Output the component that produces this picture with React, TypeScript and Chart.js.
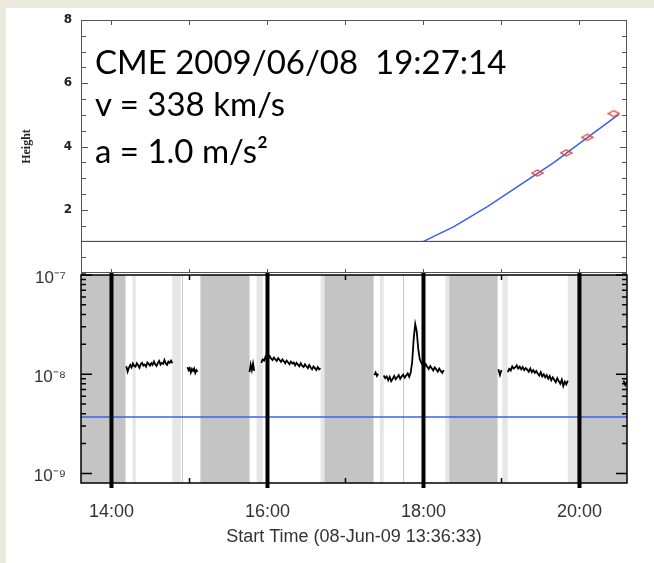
import React, { useEffect, useRef } from 'react';
import { Chart, registerables } from 'chart.js';

Chart.register(...registerables);

// ---- time axis (decimal hours, 08-Jun-09) ----
const START_HOUR = 13 + 36 / 60 + 33 / 3600; // 13:36:33
const END_HOUR = START_HOUR + 7;
const hourMarks = [14, 15, 16, 17, 18, 19, 20];
const labeledHours = [14, 16, 18, 20];

// ---- top panel: CME height-time ----
const heightLabels = [2, 4, 6, 8];
const heightMinorTicks = [0, 0.5, 1, 1.5, 2, 2.5, 3, 3.5, 4, 4.5, 5, 5.5, 6, 6.5, 7, 7.5, 8];
const heightMax = 8;
const baselineTimes = [START_HOUR, END_HOUR];
const baselineHeights = [1, 1];
const fitTimes = [18.0, 18.385, 18.82, 19.24, 19.67, 20.1, 20.5];
const fitHeights = [1.0, 1.46, 2.1, 2.79, 3.49, 4.28, 5.01];
const obsTimes = [19.46, 19.83, 20.1, 20.44];
const obsHeights = [3.16, 3.8, 4.29, 5.04];
const annotationLines = ['CME 2009/06/08  19:27:14', 'v = 338 km/s', 'a = 1.0 m/s\u00B2'];

// ---- bottom panel: GOES flux (log) ----
const fluxMin = 8e-10;
const fluxMax = 1e-7;
const fluxLabels = [1e-9, 1e-8, 1e-7];
const fluxMinorMultipliers = [2, 3, 4, 5, 6, 7, 8, 9];
const thresholdFlux = 3.7e-9;
const FLUX_UNIT = 1e-8;

const darkBands = [
  [START_HOUR, 14.18],
  [15.14, 15.77],
  [16.73, 17.36],
  [18.33, 18.95],
  [19.97, END_HOUR],
];
const lightBands = [
  [14.27, 14.31],
  [14.78, 14.89],
  [15.86, 15.94],
  [16.68, 16.73],
  [17.44, 17.49],
  [18.28, 18.33],
  [19.01, 19.08],
  [19.85, 19.97],
];
const faintLines = [14.9, 17.74];

const segmentTimes = [
  [14.19, 14.78],
  [14.974, 15.103],
  [15.77, 15.83],
  [15.92, 16.68],
  [17.37, 17.42],
  [17.49, 18.26],
  [18.96, 19.0],
  [19.08, 19.85],
  [20.564, 20.609],
];
const seg1 = [1.2, 1.06, 1.16, 1.24, 1.17, 1.28, 1.21, 1.19, 1.29, 1.23, 1.16, 1.26, 1.3, 1.22, 1.25, 1.19, 1.31, 1.27, 1.22, 1.29, 1.24, 1.34, 1.26, 1.21, 1.3, 1.36, 1.25, 1.3, 1.27, 1.39, 1.28, 1.24, 1.34, 1.3, 1.37, 1.29];
const seg2 = [1.18, 1.1, 1.15, 1.04, 1.13, 1.08, 1.14, 1.03, 1.1, 1.06];
const seg3 = [1.05, 1.25, 1.1, 1.28, 1.08];
const seg4 = [1.3, 1.41, 1.37, 1.5, 1.38, 1.44, 1.52, 1.43, 1.39, 1.47, 1.41, 1.36, 1.45, 1.39, 1.33, 1.41, 1.35, 1.29, 1.37, 1.32, 1.26, 1.34, 1.28, 1.31, 1.23, 1.3, 1.25, 1.2, 1.29, 1.22, 1.18, 1.26, 1.2, 1.15, 1.24, 1.17, 1.12, 1.2, 1.15, 1.1, 1.18, 1.12, 1.15];
const seg5 = [0.98, 1.04, 0.96, 1.01];
const seg6 = [0.97, 0.91, 0.95, 0.87, 0.94, 0.85, 0.9, 0.96, 0.89, 0.93, 0.98, 0.9, 0.95, 0.99, 0.92, 0.97, 1.02, 0.94, 1.04, 1.35, 2.3, 3.2, 2.7, 1.8, 1.42, 1.3, 1.24, 1.17, 1.26, 1.19, 1.13, 1.21, 1.15, 1.09, 1.17, 1.12, 1.06, 1.14, 1.08, 1.03, 1.1];
const seg7 = [1.12, 0.98, 1.1];
const seg8 = [1.05, 1.13, 1.09, 1.2, 1.14, 1.17, 1.23, 1.14, 1.19, 1.12, 1.18, 1.1, 1.15, 1.11, 1.06, 1.14, 1.05, 1.1, 1.03, 1.08, 1.01, 0.97, 1.05, 0.95, 1.0, 0.93, 0.98, 0.9, 0.96, 0.87, 0.93, 0.88, 0.83, 0.91, 0.85, 0.8, 0.88, 0.76, 0.84, 0.79, 0.86];
const seg9 = [0.86, 0.78, 0.84];
const segmentValues = [seg1, seg2, seg3, seg4, seg5, seg6, seg7, seg8, seg9];

function supDigits(n: number) {
  const map: Record<string, string> = { '-': '\u207B', '0': '\u2070', '1': '\u00B9', '2': '\u00B2', '3': '\u00B3', '4': '\u2074', '5': '\u2075', '6': '\u2076', '7': '\u2077', '8': '\u2078', '9': '\u2079' };
  return String(n).split('').map((c) => map[c] || c).join('');
}

function buildTrace() {
  const pts: any[] = [];
  segmentValues.forEach((vals, si) => {
    const [t0, t1] = segmentTimes[si];
    const step = vals.length > 1 ? (t1 - t0) / (vals.length - 1) : 0;
    vals.forEach((v, i) => pts.push({ x: t0 + i * step, y: v * FLUX_UNIT }));
    pts.push({ x: t1 + 0.001, y: null });
  });
  return pts;
}

const noScalePadding = (s: any) => {
  s.paddingTop = 0;
  s.paddingBottom = 0;
};

const topFrame = {
  id: 'topFrame',
  afterDraw(chart: any) {
    const { ctx, chartArea: a, scales } = chart;
    const x = scales.x;
    const y = scales.y;
    ctx.save();
    ctx.strokeStyle = '#555';
    ctx.lineWidth = 1;
    ctx.strokeRect(Math.round(a.left) + 0.5, Math.round(a.top) + 0.5, Math.round(a.right - a.left) - 1, Math.round(a.bottom - a.top) - 1);
    ctx.beginPath();
    heightMinorTicks.forEach((v) => {
      const py = Math.round(y.getPixelForValue(v)) + 0.5;
      const len = heightLabels.includes(v) ? 7 : 5;
      ctx.moveTo(a.left, py);
      ctx.lineTo(a.left + len, py);
      ctx.moveTo(a.right, py);
      ctx.lineTo(a.right - len, py);
    });
    hourMarks.forEach((h) => {
      const px = Math.round(x.getPixelForValue(h)) + 0.5;
      ctx.moveTo(px, a.top);
      ctx.lineTo(px, a.top + 5);
      ctx.moveTo(px, a.bottom);
      ctx.lineTo(px, a.bottom - 4);
    });
    ctx.stroke();
    ctx.restore();
  },
};

const bottomDecor = {
  id: 'bottomDecor',
  beforeDatasetsDraw(chart: any) {
    const { ctx, chartArea: a, scales } = chart;
    const x = scales.x;
    ctx.save();
    ctx.beginPath();
    ctx.rect(a.left, a.top, a.right - a.left, a.bottom - a.top);
    ctx.clip();
    ctx.fillStyle = '#e6e6e6';
    lightBands.forEach(([s, e]) => {
      const p0 = x.getPixelForValue(s);
      const p1 = x.getPixelForValue(e);
      ctx.fillRect(p0, a.top, p1 - p0, a.bottom - a.top);
    });
    ctx.fillStyle = '#c4c4c4';
    darkBands.forEach(([s, e]) => {
      const p0 = x.getPixelForValue(s);
      const p1 = x.getPixelForValue(e);
      ctx.fillRect(p0, a.top, p1 - p0, a.bottom - a.top);
    });
    ctx.strokeStyle = '#c8c8c8';
    ctx.lineWidth = 1;
    ctx.beginPath();
    faintLines.forEach((h) => {
      const px = Math.round(x.getPixelForValue(h)) + 0.5;
      ctx.moveTo(px, a.top);
      ctx.lineTo(px, a.bottom);
    });
    ctx.stroke();
    ctx.restore();
  },
  afterDatasetsDraw(chart: any) {
    const { ctx, chartArea: a, scales } = chart;
    const x = scales.x;
    const y = scales.y;
    ctx.save();
    ctx.fillStyle = '#000';
    labeledHours.forEach((h) => {
      const px = x.getPixelForValue(h);
      ctx.fillRect(px - 2, a.top - 2, 4, a.bottom - a.top + 7);
    });
    ctx.strokeStyle = '#000';
    ctx.lineWidth = 1.5;
    ctx.strokeRect(a.left, a.top, a.right - a.left, a.bottom - a.top);
    ctx.beginPath();
    fluxLabels.forEach((major) => {
      const pm = y.getPixelForValue(major);
      ctx.moveTo(a.left, pm);
      ctx.lineTo(a.left + 11, pm);
      ctx.moveTo(a.right, pm);
      ctx.lineTo(a.right - 11, pm);
      if (major < fluxMax) {
        fluxMinorMultipliers.forEach((m) => {
          const v = major * m;
          if (v > fluxMax) return;
          const p = y.getPixelForValue(v);
          ctx.moveTo(a.left, p);
          ctx.lineTo(a.left + 5, p);
          ctx.moveTo(a.right, p);
          ctx.lineTo(a.right - 5, p);
        });
      }
    });
    hourMarks.filter((h) => !labeledHours.includes(h)).forEach((h) => {
      const px = x.getPixelForValue(h);
      ctx.moveTo(px, a.top);
      ctx.lineTo(px, a.top + 5);
      ctx.moveTo(px, a.bottom);
      ctx.lineTo(px, a.bottom - 5);
    });
    ctx.stroke();
    ctx.restore();
  },
};

function makeDiamond() {
  const c = document.createElement('canvas');
  c.width = 13;
  c.height = 8;
  const g = c.getContext('2d')!;
  g.strokeStyle = '#e0402a';
  g.lineWidth = 1.3;
  g.beginPath();
  g.moveTo(1, 4);
  g.lineTo(6.5, 1);
  g.lineTo(12, 4);
  g.lineTo(6.5, 7);
  g.closePath();
  g.stroke();
  return c;
}

export default function App() {
  const topRef = useRef<HTMLCanvasElement>(null);
  const bottomRef = useRef<HTMLCanvasElement>(null);

  useEffect(() => {
    const diamond = makeDiamond();
    const top = new Chart(topRef.current!, {
      type: 'line',
      data: {
        datasets: [
          {
            data: obsTimes.map((t, i) => ({ x: t, y: obsHeights[i] })),
            showLine: false,
            pointStyle: diamond as any,
            pointRadius: 5,
            borderColor: '#e0402a',
          },
          {
            data: fitTimes.map((t, i) => ({ x: t, y: fitHeights[i] })),
            borderColor: '#3a5fe6',
            borderWidth: 1.5,
            pointRadius: 0,
          },
          {
            data: baselineTimes.map((t, i) => ({ x: t, y: baselineHeights[i] })),
            borderColor: '#333',
            borderWidth: 1,
            pointRadius: 0,
          },
        ],
      },
      options: {
        responsive: false,
        animation: false,
        events: [],
        layout: { padding: { top: 20, right: 27, bottom: 7, left: 0 } },
        plugins: { legend: { display: false }, tooltip: { enabled: false } },
        scales: {
          x: { type: 'linear', min: START_HOUR, max: END_HOUR, bounds: 'data', display: false },
          y: {
            type: 'linear',
            min: 0,
            max: heightMax,
            bounds: 'data',
            position: 'left',
            afterFit: (s: any) => { s.width = 81; noScalePadding(s); },
            afterBuildTicks: (s: any) => { s.ticks = heightLabels.map((v) => ({ value: v })); },
            grid: { display: false, drawTicks: false },
            border: { display: false },
            ticks: {
              padding: 9,
              color: '#222',
              font: { family: 'DejaVu Sans', weight: 'bold', size: 12 },
              callback: (v: any) => String(v),
            },
            title: {
              display: true,
              text: 'Height',
              color: '#222',
              font: { family: 'Liberation Serif', weight: 'bold', size: 12 },
              padding: { top: 20, bottom: 0 },
            },
          },
        },
      } as any,
      plugins: [topFrame],
    });

    const bottom = new Chart(bottomRef.current!, {
      type: 'line',
      data: {
        datasets: [
          {
            data: buildTrace(),
            borderColor: '#000',
            borderWidth: 1.8,
            pointRadius: 0,
            spanGaps: false,
          },
          {
            data: [START_HOUR, END_HOUR].map((t) => ({ x: t, y: thresholdFlux })),
            borderColor: '#3a62e8',
            borderWidth: 1.6,
            pointRadius: 0,
          },
        ],
      },
      options: {
        responsive: false,
        animation: false,
        events: [],
        layout: { padding: { top: 15, right: 27, bottom: 0, left: 0 } },
        plugins: { legend: { display: false }, tooltip: { enabled: false } },
        scales: {
          x: {
            type: 'linear',
            min: START_HOUR,
            max: END_HOUR,
            bounds: 'data',
            position: 'bottom',
            afterFit: (s: any) => { s.height = 80; },
            afterBuildTicks: (s: any) => { s.ticks = labeledHours.map((v) => ({ value: v })); },
            grid: { display: false, drawTicks: false },
            border: { display: false },
            ticks: {
              autoSkip: false,
              maxRotation: 0,
              padding: 18,
              color: '#333',
              font: { family: 'Liberation Sans', size: 18 },
              callback: (v: any) => `${v}:00`,
            },
            title: {
              display: true,
              text: 'Start Time (08-Jun-09 13:36:33)',
              color: '#333',
              font: { family: 'Liberation Sans', size: 18 },
              padding: { top: 0, bottom: 15 },
            },
          },
          y: {
            type: 'logarithmic',
            min: fluxMin,
            max: fluxMax,
            bounds: 'data',
            position: 'left',
            afterFit: (s: any) => { s.width = 81; noScalePadding(s); },
            afterBuildTicks: (s: any) => { s.ticks = fluxLabels.map((v) => ({ value: v })); },
            grid: { display: false, drawTicks: false },
            border: { display: false },
            ticks: {
              padding: 15,
              labelOffset: 3,
              color: '#333',
              font: { family: 'Liberation Sans', size: 17 },
              callback: (v: any) => '10' + supDigits(Math.round(Math.log10(v))),
            },
          },
        },
      } as any,
      plugins: [bottomDecor],
    });

    return () => {
      top.destroy();
      bottom.destroy();
    };
  }, []);

  const textStyle: React.CSSProperties = {
    position: 'absolute',
    left: 95,
    fontFamily: 'Lato, sans-serif',
    fontSize: 33,
    lineHeight: '30px',
    color: '#000',
    whiteSpace: 'pre',
  };

  return (
    <div style={{ position: 'fixed', left: 0, top: 0, width: 654, height: 563, background: '#ebe8dc', overflow: 'hidden' }}>
      <div style={{ position: 'absolute', left: 6, top: 8, right: 0, bottom: 0, background: '#fff' }} />
      <canvas ref={topRef} width={654} height={280} style={{ position: 'absolute', left: 0, top: 0 }} />
      <canvas ref={bottomRef} width={654} height={303} style={{ position: 'absolute', left: 0, top: 260 }} />
      <div style={{ ...textStyle, top: 46 }}>{annotationLines[0]}</div>
      <div style={{ ...textStyle, top: 88 }}>{annotationLines[1]}</div>
      <div style={{ ...textStyle, top: 135 }}>{annotationLines[2]}</div>
    </div>
  );
}
